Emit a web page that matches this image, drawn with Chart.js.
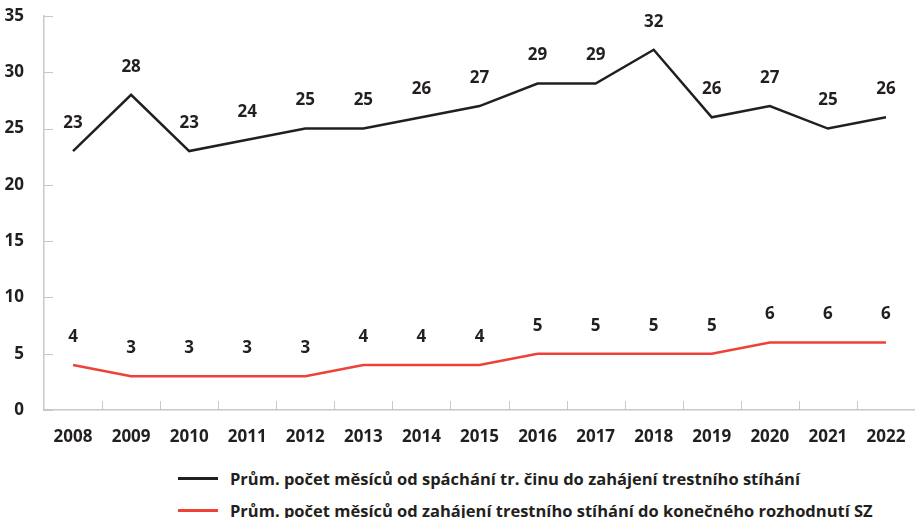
<!DOCTYPE html>
<html lang="cs">
<head>
<meta charset="UTF-8">
<title>Průměrná délka řízení</title>
<script src="https://cdn.jsdelivr.net/npm/chart.js"></script>
<style>
    * { margin: 0; padding: 0; box-sizing: border-box; }
    body { width: 915px; height: 518px; background: #fff; overflow: hidden; font-family: 'Open Sans', sans-serif; color: #231f20; }
    .chart-box { position: relative; width: 915px; height: 452px; }
    .legend { position: absolute; left: 178px; top: 462px; }
    .legend div { display: flex; align-items: center; height: 32px; font-weight: 700; font-size: 16.5px; white-space: nowrap; }
    .legend span.ln { display: inline-block; width: 40px; height: 3px; margin-right: 12px; }
</style>
</head>
<body>
<div class="chart-box"><canvas id="chart"></canvas></div>
<div class="legend" id="legend"></div>

<script>
    const years = ['2008', '2009', '2010', '2011', '2012', '2013', '2014', '2015', '2016', '2017', '2018', '2019', '2020', '2021', '2022'];
    const toProsecution = [23, 28, 23, 24, 25, 25, 26, 27, 29, 29, 32, 26, 27, 25, 26];
    const toDecision = [4, 3, 3, 3, 3, 4, 4, 4, 5, 5, 5, 5, 6, 6, 6];
    const seriesNames = [
        'Prům. počet měsíců od spáchání tr. činu do zahájení trestního stíhání',
        'Prům. počet měsíců od zahájení trestního stíhání do konečného rozhodnutí SZ'
    ];
    const colors = ['#231f20', '#ef4136'];
    const textColor = '#231f20';
    const axisColor = '#c8c8c8';

    // values above each point + inward tick marks
    const extras = {
        id: 'extras',
        afterDatasetsDraw(chart) {
            const c = chart.ctx;
            c.save();
            c.font = 'bold 17px "Open Sans"';
            c.fillStyle = textColor;
            c.textAlign = 'center';
            c.textBaseline = 'middle';
            chart.data.datasets.forEach((ds, i) => {
                chart.getDatasetMeta(i).data.forEach((pt, j) => {
                    c.fillText(ds.data[j], pt.x, pt.y - 28);
                });
            });
            const x = chart.scales.x, y = chart.scales.y;
            c.strokeStyle = axisColor;
            c.lineWidth = 1;
            c.beginPath();
            y.ticks.forEach(t => {
                const py = Math.round(y.getPixelForValue(t.value)) + 0.5;
                c.moveTo(x.left, py);
                c.lineTo(x.left + 9, py);
            });
            for (let k = 1; k < years.length; k++) {
                const px = Math.round(x.getPixelForValue(k - 0.5)) + 0.5;
                c.moveTo(px, y.bottom);
                c.lineTo(px, y.bottom - 9);
            }
            c.stroke();
            c.restore();
        }
    };

    new Chart(document.getElementById('chart'), {
        type: 'line',
        data: {
            labels: years,
            datasets: [
                { label: seriesNames[0], data: toProsecution, borderColor: colors[0], borderWidth: 2.5, pointRadius: 0, tension: 0 },
                { label: seriesNames[1], data: toDecision, borderColor: colors[1], borderWidth: 2.5, pointRadius: 0, tension: 0 }
            ]
        },
        options: {
            responsive: true,
            maintainAspectRatio: false,
            animation: false,
            layout: { padding: { top: 16, right: 0, left: 0, bottom: 0 } },
            scales: {
                x: {
                    offset: true,
                    grid: { display: false },
                    border: { color: axisColor, width: 1.5 },
                    ticks: { color: textColor, font: { family: 'Open Sans', size: 17, weight: 'bold' }, padding: 9, maxRotation: 0 },
                    afterFit(s) { s.height = 42; }
                },
                y: {
                    min: 0,
                    max: 35,
                    grid: { display: false },
                    border: { color: axisColor, width: 1.5 },
                    ticks: { stepSize: 5, color: textColor, font: { family: 'Open Sans', size: 17, weight: 'bold' }, padding: 12 },
                    afterFit(s) { s.width = 44; s.paddingTop = 0; s.paddingBottom = 0; }
                }
            },
            plugins: {
                legend: { display: false },
                tooltip: { enabled: false }
            }
        },
        plugins: [extras]
    });

    const legend = document.getElementById('legend');
    seriesNames.forEach((name, i) => {
        const row = document.createElement('div');
        row.innerHTML = '<span class="ln" style="background:' + colors[i] + '"></span>' + name;
        legend.appendChild(row);
    });
</script>
</body>
</html>
